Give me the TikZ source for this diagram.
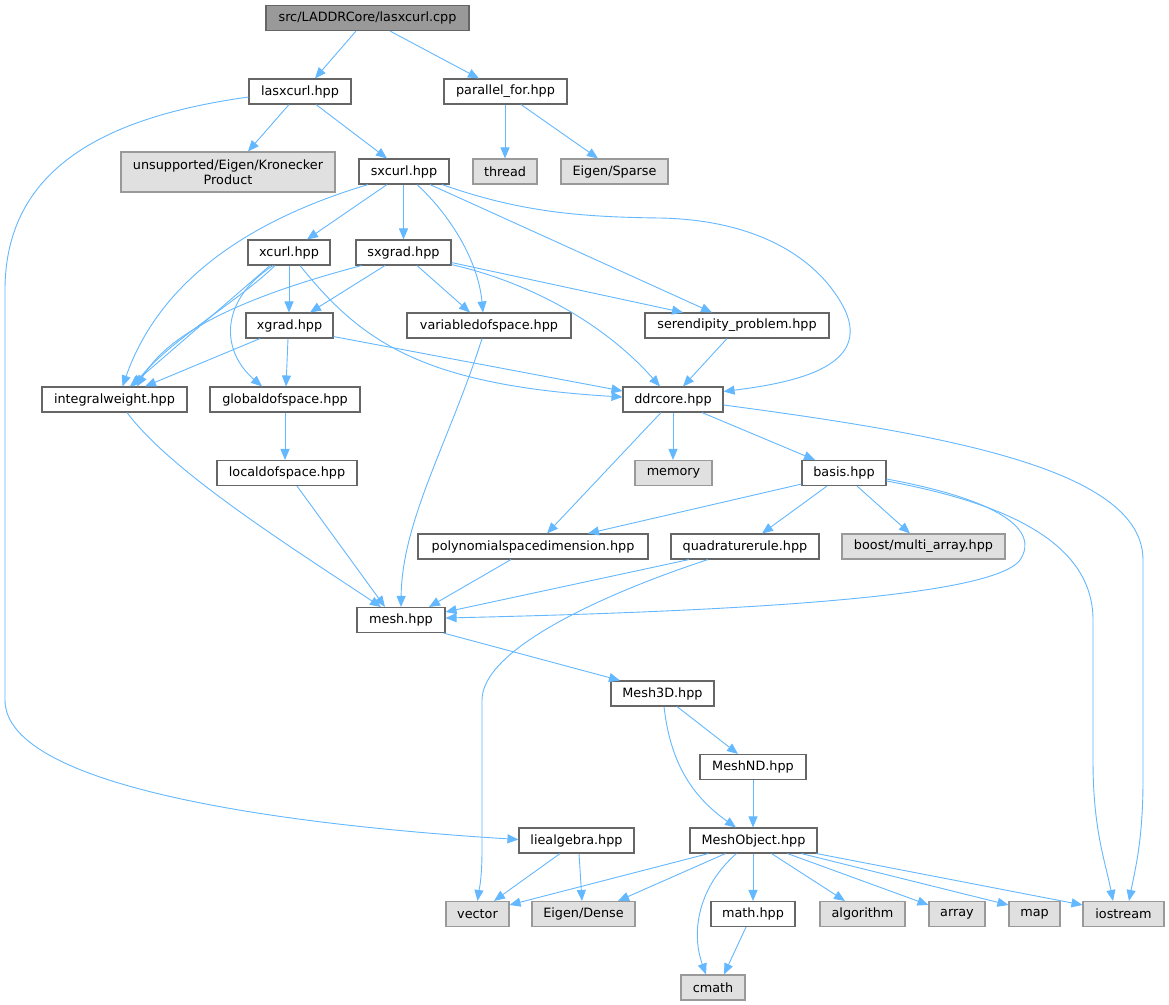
\documentclass[tikz,border=0pt]{standalone}
\usepackage{fontspec}
\setmainfont{DejaVu Sans}
\usetikzlibrary{arrows.meta}
\definecolor{edgeblue}{HTML}{63B8FF}
\definecolor{bordark}{HTML}{666666}
\definecolor{borlight}{HTML}{999999}
\definecolor{fillgray}{HTML}{E0E0E0}
\definecolor{fillroot}{HTML}{999999}
\tikzset{
  box/.style={draw=bordark, fill=white, line width=1.1pt, minimum height=25pt, inner sep=0pt,
    font=\fontsize{12.8}{15}\selectfont, text=black},
  sysbox/.style={box, draw=borlight, fill=fillgray},
  rootbox/.style={box, draw=bordark, fill=fillroot},
  e/.style={draw=edgeblue, line width=0.9pt, -{Triangle[length=11pt,width=9pt]}}
}
\begin{document}
\begin{tikzpicture}[x=1pt,y=-1pt]
\fill[white] (0,0) rectangle (1169,1004);
\useasboundingbox (0,0) rectangle (1169,1004);
% nodes
\node[rootbox, minimum width=203pt] (cpp) at (367.5,18) {src/LADDRCore/lasxcurl.cpp};
\node[box, minimum width=102pt] (lasx) at (300,91.5) {lasxcurl.hpp};
\node[box, minimum width=123pt] (pfor) at (505.5,91.5) {parallel\_for.hpp};
\node[sysbox, minimum width=214pt, minimum height=40pt, align=center] (unsup) at (228,172) {unsupported/Eigen/Kronecker\\Product};
\node[box, minimum width=90pt] (sxcurl) at (404,171.5) {sxcurl.hpp};
\node[sysbox, minimum width=64pt] (thread) at (505,171.5) {thread};
\node[sysbox, minimum width=107pt] (esparse) at (614.5,171.5) {Eigen/Sparse};
\node[box, minimum width=82pt] (xcurl) at (289,252.5) {xcurl.hpp};
\node[box, minimum width=95pt] (sxgrad) at (403.5,252.5) {sxgrad.hpp};
\node[box, minimum width=87pt] (xgrad) at (289.5,325.5) {xgrad.hpp};
\node[box, minimum width=164pt] (vardof) at (489,325.5) {variabledofspace.hpp};
\node[box, minimum width=184pt] (seren) at (737,325.5) {serendipity\_problem.hpp};
\node[box, minimum width=145pt] (intw) at (114.5,399.5) {integralweight.hpp};
\node[box, minimum width=150pt] (gdof) at (285,399.5) {globaldofspace.hpp};
\node[box, minimum width=100pt] (ddr) at (673,399.5) {ddrcore.hpp};
\node[box, minimum width=140pt] (ldof) at (287,473) {localdofspace.hpp};
\node[sysbox, minimum width=77pt] (memory) at (673.5,473) {memory};
\node[box, minimum width=84pt] (basis) at (844,473) {basis.hpp};
\node[box, minimum width=230pt] (poly) at (533,546.5) {polynomialspacedimension.hpp};
\node[box, minimum width=148pt] (quad) at (745,546.5) {quadraturerule.hpp};
\node[sysbox, minimum width=163pt] (boost) at (923.5,546.5) {boost/multi\_array.hpp};
\node[box, minimum width=88pt] (mesh) at (401,620) {mesh.hpp};
\node[box, minimum width=103pt] (m3d) at (662.5,693.5) {Mesh3D.hpp};
\node[box, minimum width=106pt] (mnd) at (753,767) {MeshND.hpp};
\node[box, minimum width=115pt] (lie) at (576.5,840.5) {liealgebra.hpp};
\node[box, minimum width=127pt] (mobj) at (753.5,840.5) {MeshObject.hpp};
\node[sysbox, minimum width=63pt] (vector) at (477.5,914) {vector};
\node[sysbox, minimum width=103pt] (edense) at (583.5,914) {Eigen/Dense};
\node[box, minimum width=84pt] (math) at (753,914) {math.hpp};
\node[sysbox, minimum width=85pt] (algo) at (862.5,914) {algorithm};
\node[sysbox, minimum width=56pt] (array) at (957,914) {array};
\node[sysbox, minimum width=51pt] (map) at (1034.5,914) {map};
\node[sysbox, minimum width=81pt] (iostream) at (1123.5,914) {iostream};
\node[sysbox, minimum width=64pt] (cmath) at (713,987.5) {cmath};
% edges
\draw[e] ([xshift=-11.5pt]cpp.south) -- ([xshift=15pt]lasx.north);
\draw[e] ([xshift=22.5pt]cpp.south) -- ([xshift=-26.5pt]pfor.north);
\draw[e] ([xshift=-11pt]lasx.south) -- ([xshift=20pt]unsup.north);
\draw[e] ([xshift=16pt]lasx.south) -- ([xshift=-17pt]sxcurl.north);
\draw[e] ([yshift=-5.5pt]lasx.west) .. controls (120,115) and (5,160) .. (5,290) -- (5,700) .. controls (5,790) and (300,826) .. ([yshift=1pt]lie.west);
\draw[e] ([xshift=-0.5pt]pfor.south) -- (thread.north);
\draw[e] ([xshift=15.5pt]pfor.south) -- ([xshift=-16.5pt]esparse.north);
% sxcurl
\draw[e] ([xshift=-36pt]sxcurl.south) .. controls (250,220) and (160,280) .. ([xshift=8pt]intw.north);
\draw[e] ([xshift=-17pt]sxcurl.south) -- ([xshift=18pt]xcurl.north);
\draw[e] ([xshift=-0.5pt]sxcurl.south) -- (sxgrad.north);
\draw[e] ([xshift=13pt]sxcurl.south) .. controls (450,215) and (478,260) .. ([xshift=-6pt]vardof.north);
\draw[e] ([xshift=26pt]sxcurl.south) -- ([xshift=-25pt]seren.north);
\draw[e] ([xshift=38pt]sxcurl.south) .. controls (520,212) and (580,217) .. (660,218) .. controls (760,220) and (820,260) .. (845,310) .. controls (870,365) and (800,382) .. ([yshift=8pt]ddr.east);
% xcurl
\draw[e] (xcurl.south) -- ([xshift=-0.5pt]xgrad.north);
\draw[e] ([xshift=-19pt]xcurl.south) -- ([xshift=15.5pt]intw.north);
\draw[e] ([xshift=-14pt]xcurl.south) .. controls (240,300) and (170,340) .. ([xshift=18.5pt]intw.north);
\draw[e] ([xshift=-16pt]xcurl.south) .. controls (220,300) and (220,350) .. ([xshift=-23pt]gdof.north);
\draw[e] ([xshift=11pt]xcurl.south) .. controls (360,340) and (420,385) .. ([yshift=2.5pt]ddr.west);
% sxgrad
\draw[e] ([xshift=-42pt]sxgrad.south) .. controls (250,295) and (170,330) .. ([xshift=22.5pt]intw.north);
\draw[e] ([xshift=-18.5pt]sxgrad.south) -- ([xshift=20.5pt]xgrad.north);
\draw[e] ([xshift=13.5pt]sxgrad.south) -- ([xshift=-19pt]vardof.north);
\draw[e] ([yshift=3pt]sxgrad.south east) -- ([xshift=-54pt]seren.north);
\draw[e] ([yshift=1pt]sxgrad.south east) .. controls (540,285) and (610,330) .. ([xshift=-13pt]ddr.north);
% xgrad
\draw[e] ([xshift=-29.5pt]xgrad.south) -- ([xshift=30.5pt]intw.north);
\draw[e] ([xshift=-1.5pt]xgrad.south) -- ([xshift=1pt]gdof.north);
\draw[e] ([yshift=2pt]xgrad.south east) -- ([yshift=8.5pt]ddr.west);
% others
\draw[e] ([xshift=-7pt]vardof.south) .. controls (450,440) and (402,520) .. (mesh.north);
\draw[e] ([xshift=-10pt]seren.south) -- ([xshift=10pt]ddr.north);
\draw[e] ([xshift=12.5pt]intw.south) .. controls (170,470) and (280,540) .. ([xshift=-20pt]mesh.north);
\draw[e] (gdof.south) -- ([xshift=-2pt]ldof.north);
\draw[e] ([xshift=10pt]ldof.south) -- ([xshift=-16pt]mesh.north);
% ddrcore
\draw[e] ([xshift=-12pt]ddr.south) -- ([xshift=14pt]poly.north);
\draw[e] (ddr.south) -- ([xshift=-0.5pt]memory.north);
\draw[e] ([xshift=29pt]ddr.south) -- ([xshift=-29pt]basis.north);
\draw[e] ([yshift=-5.5pt]ddr.east) .. controls (950,435) and (1143,470) .. (1143,560) -- (1143,780) .. controls (1143,840) and (1135,870) .. ([xshift=5.5pt]iostream.north);
% basis
\draw[e] ([yshift=2pt]basis.south west) -- ([xshift=55pt]poly.north);
\draw[e] ([xshift=-17pt]basis.south) -- ([xshift=17pt]quad.north);
\draw[e] ([xshift=13pt]basis.south) -- ([xshift=-13.5pt]boost.north);
\draw[e] ([yshift=-6pt]basis.east) .. controls (1000,500) and (1040,530) .. (1020,560) .. controls (990,600) and (700,612) .. ([yshift=2pt]mesh.east);
\draw[e] ([yshift=-8pt]basis.east) .. controls (1000,502) and (1093,540) .. (1093,620) -- (1093,760) .. controls (1093,830) and (1105,860) .. ([xshift=-10.5pt]iostream.north);
% poly, quad
\draw[e] ([xshift=-22pt]poly.south) -- ([xshift=28pt]mesh.north);
\draw[e] ([xshift=-56pt]quad.south) -- ([yshift=8pt]mesh.east);
\draw[e] ([xshift=-37pt]quad.south) .. controls (600,595) and (482,650) .. (482,700) -- (482,850) .. controls (482,880) and (479,890) .. (vector.north);
% mesh chain
\draw[e] ([xshift=-2pt]mesh.south east) -- ([xshift=-42.5pt]m3d.north);
\draw[e] ([xshift=14.5pt]m3d.south) -- ([xshift=-15pt]mnd.north);
\draw[e] ([xshift=1.5pt]m3d.south) .. controls (670,760) and (690,795) .. ([xshift=-17.5pt]mobj.north);
\draw[e] (mnd.south) -- ([xshift=-0.5pt]mobj.north);
% liealgebra
\draw[e] ([xshift=-16.5pt]lie.south) -- ([xshift=16.5pt]vector.north);
\draw[e] ([xshift=2.5pt]lie.south) -- ([xshift=-1.5pt]edense.north);
% MeshObject
\draw[e] ([xshift=-45pt]mobj.south) -- ([yshift=-4pt]vector.north east);
\draw[e] ([xshift=-28pt]mobj.south) -- ([xshift=34.5pt]edense.north);
\draw[e] ([xshift=-17pt]mobj.south) .. controls (700,885) and (690,930) .. ([xshift=-7pt]cmath.north);
\draw[e] ([xshift=-0.5pt]mobj.south) -- (math.north);
\draw[e] ([xshift=18pt]mobj.south) -- ([xshift=-17.5pt]algo.north);
\draw[e] ([xshift=34pt]mobj.south) -- ([yshift=-4pt]array.north west);
\draw[e] ([xshift=48pt]mobj.south) -- ([yshift=-4pt]map.north west);
\draw[e] ([xshift=-1pt]mobj.south east) -- ([yshift=-4pt]iostream.north west);
\draw[e] ([xshift=-7pt]math.south) -- ([xshift=11pt]cmath.north);
\end{tikzpicture}
\end{document}
